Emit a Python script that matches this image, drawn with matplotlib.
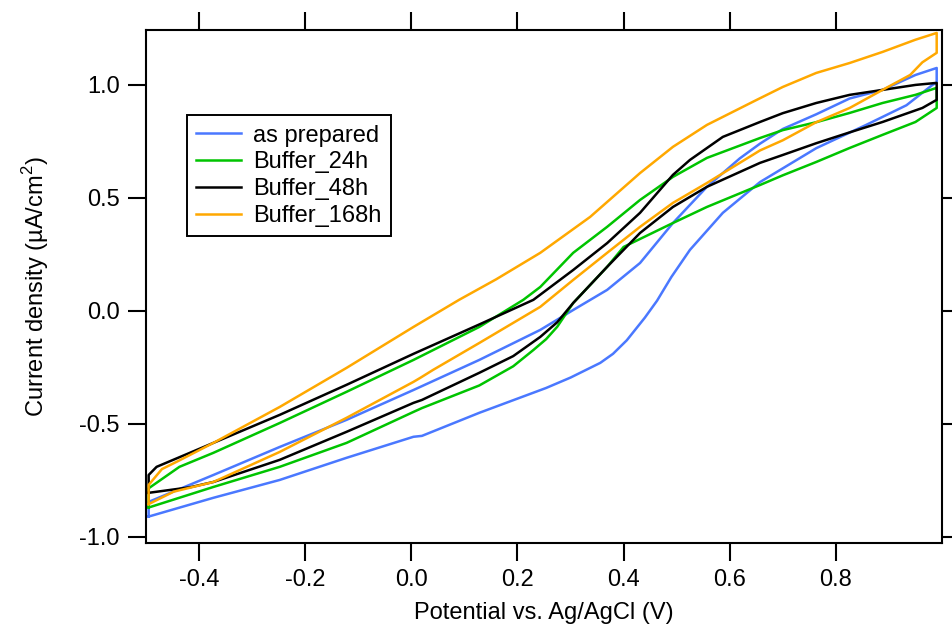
import numpy as np
import matplotlib
matplotlib.use("Agg")
import matplotlib.pyplot as plt
from matplotlib.ticker import FormatStrFormatter

plt.rcParams['font.family'] = ['Liberation Sans', 'DejaVu Sans']
plt.rcParams['mathtext.fontset'] = 'custom'
plt.rcParams['mathtext.rm'] = 'Liberation Sans'
plt.rcParams['axes.unicode_minus'] = False

# CV loops: lower branch and upper branch, both with x ascending (V, uA/cm2)
blue_lo_x = [-0.495, -0.373, -0.248, -0.122, 0.004, 0.02, 0.128, 0.254, 0.30, 0.356, 0.38, 0.406, 0.44, 0.463,
             0.49, 0.525, 0.587, 0.657, 0.763, 0.857, 0.933, 0.982, 0.99]
blue_lo_y = [-0.91, -0.827, -0.748, -0.65, -0.557, -0.553, -0.451, -0.341, -0.295, -0.23, -0.19, -0.13, -0.03,
             0.045, 0.15, 0.27, 0.434, 0.57, 0.72, 0.823, 0.91, 1.0, 1.01]
blue_up_x = [-0.495, -0.373, -0.248, -0.122, 0.004, 0.128, 0.243, 0.305, 0.369, 0.431, 0.493, 0.557, 0.619,
             0.657, 0.70, 0.763, 0.826, 0.888, 0.95, 0.99]
blue_up_y = [-0.845, -0.726, -0.602, -0.482, -0.35, -0.217, -0.084, 0.004, 0.093, 0.212, 0.389, 0.549, 0.675,
             0.74, 0.805, 0.87, 0.94, 0.978, 1.044, 1.075]

green_lo_x = [-0.495, -0.373, -0.248, -0.122, 0.004, 0.02, 0.128, 0.192, 0.23, 0.254, 0.275, 0.305, 0.369, 0.40,
              0.493, 0.557, 0.657, 0.70, 0.763, 0.826, 0.888, 0.95, 0.99]
green_lo_y = [-0.87, -0.779, -0.69, -0.584, -0.447, -0.43, -0.33, -0.245, -0.173, -0.125, -0.07, 0.035, 0.195, 0.283,
              0.389, 0.46, 0.557, 0.60, 0.659, 0.721, 0.779, 0.836, 0.898]
green_up_x = [-0.495, -0.437, -0.373, -0.248, -0.122, 0.004, 0.128, 0.211, 0.243, 0.305, 0.369, 0.431, 0.493,
              0.557, 0.657, 0.70, 0.763, 0.826, 0.888, 0.95, 0.99]
green_up_y = [-0.785, -0.69, -0.628, -0.496, -0.358, -0.217, -0.071, 0.049, 0.106, 0.257, 0.372, 0.491, 0.593,
              0.677, 0.765, 0.80, 0.835, 0.876, 0.92, 0.956, 0.987]

black_lo_x = [-0.495, -0.416, -0.373, -0.248, -0.122, 0.004, 0.02, 0.128, 0.192, 0.243, 0.275, 0.305, 0.369,
              0.431, 0.493, 0.557, 0.657, 0.70, 0.763, 0.826, 0.888, 0.963, 0.99]
black_lo_y = [-0.805, -0.78, -0.757, -0.659, -0.535, -0.407, -0.394, -0.274, -0.2, -0.115, -0.05, 0.035, 0.195,
              0.345, 0.46, 0.549, 0.655, 0.69, 0.742, 0.79, 0.836, 0.898, 0.934]
black_up_x = [-0.495, -0.48, -0.373, -0.248, -0.122, 0.004, 0.128, 0.23, 0.305, 0.369, 0.431, 0.493, 0.525,
              0.587, 0.657, 0.70, 0.763, 0.826, 0.888, 0.95, 0.99]
black_up_y = [-0.726, -0.69, -0.584, -0.46, -0.327, -0.19, -0.06, 0.049, 0.181, 0.30, 0.434, 0.602, 0.668,
              0.77, 0.836, 0.875, 0.92, 0.956, 0.978, 1.0, 1.009]

orange_lo_x = [-0.495, -0.448, -0.373, -0.248, -0.122, 0.004, 0.017, 0.041, 0.128, 0.243, 0.305, 0.369, 0.431,
               0.493, 0.557, 0.657, 0.70, 0.763, 0.826, 0.888, 0.94, 0.963, 0.99]
orange_lo_y = [-0.855, -0.80, -0.757, -0.624, -0.473, -0.314, -0.296, -0.261, -0.142, 0.018, 0.137, 0.257, 0.372,
               0.478, 0.566, 0.71, 0.755, 0.835, 0.898, 0.978, 1.044, 1.1, 1.142]
orange_up_x = [-0.495, -0.47, -0.44, -0.373, -0.248, -0.122, 0.004, 0.09, 0.16, 0.243, 0.337, 0.431, 0.493,
               0.557, 0.651, 0.70, 0.763, 0.826, 0.888, 0.95, 0.99]
orange_up_y = [-0.77, -0.70, -0.665, -0.584, -0.425, -0.252, -0.071, 0.049, 0.14, 0.257, 0.416, 0.61, 0.726,
               0.823, 0.934, 0.991, 1.053, 1.097, 1.146, 1.2, 1.23]

labels = ['as prepared', 'Buffer_24h', 'Buffer_48h', 'Buffer_168h']
colors = ['#4a78ff', '#00c400', '#000000', '#ffa800']
xticks = [-0.4, -0.2, 0.0, 0.2, 0.4, 0.6, 0.8]
yticks = [-1.0, -0.5, 0.0, 0.5, 1.0]

series = [(blue_lo_x, blue_lo_y, blue_up_x, blue_up_y),
          (green_lo_x, green_lo_y, green_up_x, green_up_y),
          (black_lo_x, black_lo_y, black_up_x, black_up_y),
          (orange_lo_x, orange_lo_y, orange_up_x, orange_up_y)]

fig = plt.figure(figsize=(9.52, 6.30), dpi=100)
ax = fig.add_axes([146 / 952, 1 - 543 / 630, 796 / 952, 513 / 630])

for (lx, ly, ux, uy), c, lab in zip(series, colors, labels):
    x = list(lx) + list(ux)[::-1] + [lx[0]]
    y = list(ly) + list(uy)[::-1] + [ly[0]]
    ax.plot(x, y, color=c, lw=1.8, label=lab, solid_joinstyle='round')

ax.set_xlim(-0.5, 1.0)
ax.set_ylim(-1.027, 1.243)
ax.set_xticks(xticks)
ax.set_yticks(yticks)
ax.xaxis.set_major_formatter(FormatStrFormatter('%.1f'))
ax.yaxis.set_major_formatter(FormatStrFormatter('%.1f'))
ax.tick_params(direction='out', length=13, width=1.5, top=True, right=True,
               labelsize=17, pad=6)
for s in ax.spines.values():
    s.set_linewidth(1.5)

ax.set_xlabel('Potential vs. Ag/AgCl (V)', fontsize=17, labelpad=8)
ax.set_ylabel('Current density (µA/cm$^{2}$)', fontsize=17, labelpad=20)

leg = ax.legend(loc='upper left', bbox_to_anchor=(0.0515, 0.834), fontsize=17,
                fancybox=False, framealpha=1, edgecolor='black', borderaxespad=0,
                handlelength=1.9, handletextpad=0.5, labelspacing=0.2,
                borderpad=0.4)
leg.get_frame().set_linewidth(1.4)

fig.savefig('out.png', dpi=100)
